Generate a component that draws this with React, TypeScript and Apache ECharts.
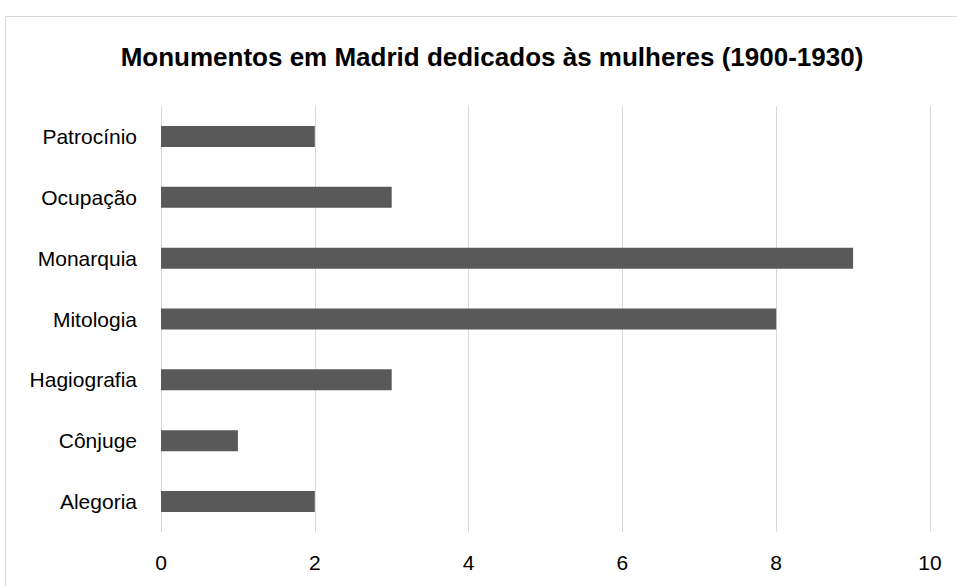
import React, { useEffect, useRef } from "react";
import * as echarts from "echarts";

const categories = ["Alegoria", "Cônjuge", "Hagiografia", "Mitologia", "Monarquia", "Ocupação", "Patrocínio"];
const values = [2, 1, 3, 8, 9, 3, 2];
const title = "Monumentos em Madrid dedicados às mulheres (1900-1930)";

export default function App() {
  const ref = useRef<HTMLDivElement>(null);
  useEffect(() => {
    document.body.style.margin = "0";
    const chart = echarts.init(ref.current!, null, { renderer: "svg" });
    const font = "Liberation Sans";
    chart.setOption({
      animation: false,
      backgroundColor: "#ffffff",
      graphic: [
        {
          type: "rect",
          shape: { x: 5.5, y: 16.5, width: 1000, height: 1000 },
          style: { fill: "none", stroke: "#d9d9d9", lineWidth: 1 },
          silent: true,
        },
      ],
      title: {
        text: title,
        left: 487,
        textAlign: "center",
        top: 39,
        textStyle: { fontFamily: font, fontWeight: "bold", fontSize: 26, color: "#000000" },
      },
      grid: { left: 161, right: 27, top: 106, bottom: 54, containLabel: false },
      xAxis: {
        type: "value",
        min: 0,
        max: 10,
        interval: 2,
        axisLine: { show: false },
        axisTick: { show: false },
        splitLine: { show: true, lineStyle: { color: "#d9d9d9", width: 1 } },
        axisLabel: { fontFamily: font, fontSize: 21, color: "#000000", margin: 20 },
      },
      yAxis: {
        type: "category",
        data: categories,
        axisLine: { show: false },
        axisTick: { show: false },
        splitLine: { show: false },
        axisLabel: { fontFamily: font, fontSize: 21, color: "#000000", margin: 24 },
      },
      series: [
        {
          type: "bar",
          data: values,
          barWidth: 21,
          itemStyle: { color: "#595959" },
        },
      ],
    });
    return () => chart.dispose();
  }, []);
  return <div ref={ref} style={{ width: 957, height: 586 }} />;
}
